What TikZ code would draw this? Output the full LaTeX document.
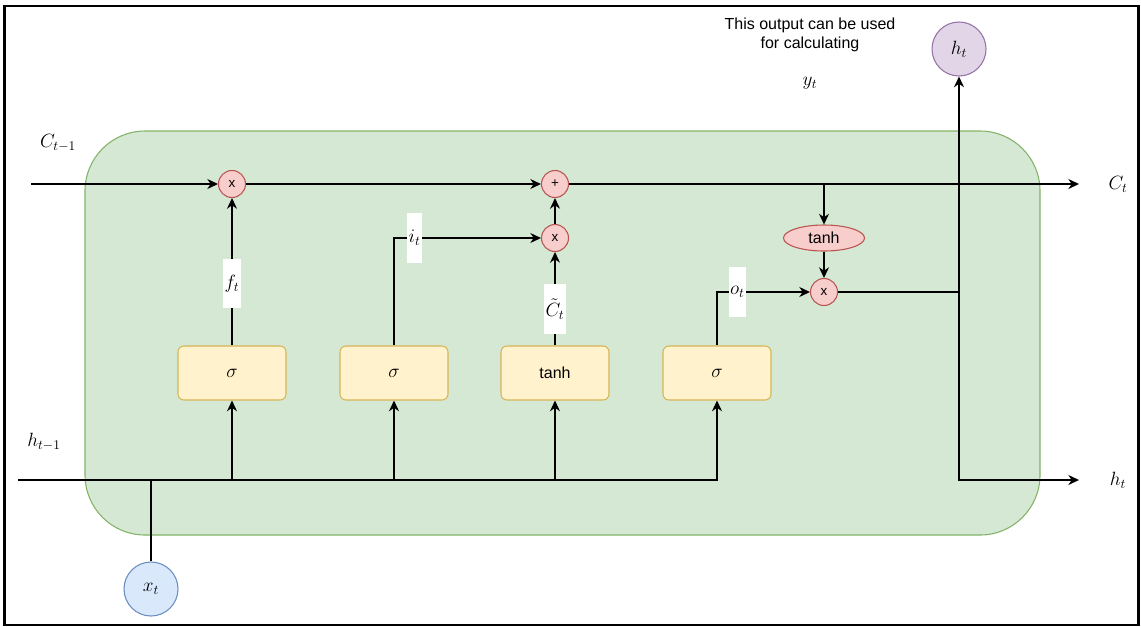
\RequirePackage{fix-cm}
\documentclass[tikz,border=0pt]{standalone}
\usepackage[no-math]{fontspec}
\setsansfont{Liberation Sans}
\usepackage{amsmath}
\usepackage{xcolor}
\usetikzlibrary{shapes.geometric, arrows.meta, positioning}
\definecolor{cellfill}{HTML}{D5E8D4}
\definecolor{cellline}{HTML}{82B366}
\definecolor{gatefill}{HTML}{FFF2CC}
\definecolor{gateline}{HTML}{D6B656}
\definecolor{opfill}{HTML}{F8CECC}
\definecolor{opline}{HTML}{B85450}
\definecolor{outfill}{HTML}{E1D5E7}
\definecolor{outline}{HTML}{9673A6}
\definecolor{infill}{HTML}{DAE8FC}
\definecolor{inline}{HTML}{6C8EBF}
\newcommand{\lblfont}{\fontsize{14.4}{16}\selectfont}
\newcommand{\txtfont}{\sffamily\fontsize{12}{14.25}\selectfont}

\begin{document}
\begin{tikzpicture}[
        x=0.75pt, y=-0.75pt,
        cell/.style={rectangle, rounded corners=45pt, draw=cellline, fill=cellfill, line width=0.8pt, minimum width=716.25pt, minimum height=303pt},
        gate/.style={rectangle, rounded corners=4.5pt, draw=gateline, fill=gatefill, line width=0.8pt, minimum width=81pt, minimum height=40.5pt, inner sep=0pt, font=\lblfont},
        op/.style={circle, draw=opline, fill=opfill, line width=0.8pt, minimum size=20.25pt, inner sep=0pt, font=\sffamily\fontsize{10}{11}\selectfont},
        squash/.style={ellipse, draw=opline, fill=opfill, line width=0.8pt, minimum width=60.75pt, minimum height=19.5pt, inner sep=0pt, font=\txtfont},
        state/.style={circle, line width=0.8pt, minimum size=40.5pt, inner sep=0pt, font=\lblfont},
        lbl/.style={fill=white, inner xsep=1pt, inner ysep=0pt, minimum height=37pt, font=\lblfont},
        tag/.style={inner sep=0pt, font=\lblfont},
        arrow/.style={-{Stealth[length=8pt, width=7.5pt, inset=2.5pt]}, line width=1pt},
        wire/.style={line width=1pt}
    ]
        \useasboundingbox (0,0) rectangle (1141,626);
        \draw[line width=1.9pt] (4.5,6) rectangle (1138.5,625);

        \node[cell] (cell) at (562.5,333) {};

        \node[op] (multf) at (232,184) {x};
        \node[op] (addc) at (555,184) {+};
        \node[op] (multi) at (555,238) {x};
        \node[squash] (tanhc) at (824,238) {tanh};
        \node[op] (multo) at (824,292) {x};

        \node[gate] (gatef) at (232,373) {$\sigma$};
        \node[gate] (gatei) at (394,373) {$\sigma$};
        \node[gate, font=\txtfont] (gatec) at (555,373) {tanh};
        \node[gate] (gateo) at (717,373) {$\sigma$};

        \node[state, draw=outline, fill=outfill] (hout) at (959,49) {$h_t$};
        \node[state, draw=inline, fill=infill] (xin) at (151,589) {$x_t$};

        \node[tag] (cprev) at (58,143) {$C_{t-1}$};
        \node[tag] (hprev) at (44,442) {$h_{t-1}$};
        \node[tag] (cnext) at (1118,184) {$C_t$};
        \node[tag] (hnext) at (1118,480) {$h_t$};
        \node[align=center, font=\txtfont] (note) at (810,35) {This output can be used\\for calculating};
        \node[tag] (ynote) at (810,83) {$y_t$};

        \coordinate (cin) at (31,184);
        \coordinate (cout) at (1079,184);
        \coordinate (ctap) at (824,184);
        \coordinate (hin) at (18,480);
        \coordinate (hend) at (1079,480);
        \coordinate (hjoin) at (hout |- multo);

        \draw[arrow] (cin) -- (multf);
        \draw[arrow] (multf) -- (addc);
        \draw[arrow] (addc) -- (cout);
        \draw[arrow] (ctap) -- (tanhc);
        \draw[arrow] (tanhc) -- (multo);
        \draw[arrow] (multo) -| (hout);
        \draw[arrow] (hjoin) |- (hend);

        \draw[arrow] (hin) -| (gateo);
        \draw[arrow] (gatef |- hin) -- (gatef);
        \draw[arrow] (gatei |- hin) -- (gatei);
        \draw[arrow] (gatec |- hin) -- (gatec);
        \draw[wire] (xin) -- (xin |- hin);

        \draw[arrow] (gatef) -- node[lbl, pos=0.42]{$f_t$} (multf);
        \draw[arrow] (gatei) |- node[lbl, pos=0.57]{$i_t$} (multi);
        \draw[arrow] (gatec) -- node[lbl, pos=0.39]{$\tilde{C}_t$} (multi);
        \draw[arrow] (gateo) |- node[lbl, pos=0.61]{$o_t$} (multo);
        \draw[arrow] (multi) -- (addc);
    \end{tikzpicture}
\end{document}
